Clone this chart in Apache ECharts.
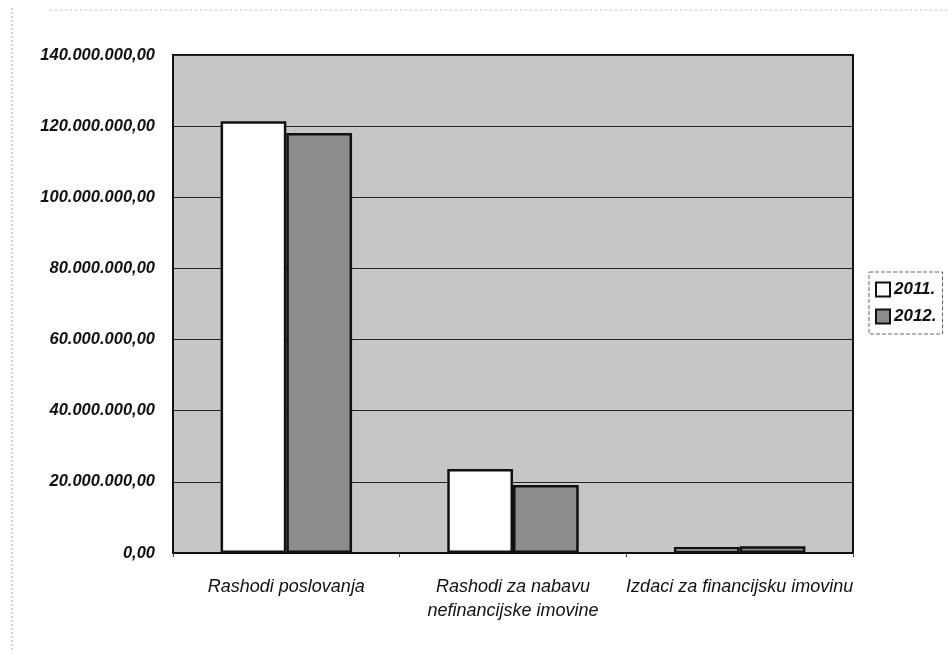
<!DOCTYPE html>
<html><head><meta charset="utf-8">
<script src="https://cdn.jsdelivr.net/npm/echarts@6/dist/echarts.min.js"></script>
<style>html,body{margin:0;padding:0;background:#fff;}#c{width:952px;height:650px;}</style>
</head><body><div id="c"></div>
<script>
const categories = ['Rashodi poslovanja', 'Rashodi za nabavu\nnefinancijske imovine', 'Izdaci za financijsku imovinu'];
const seriesNames = ['2011.', '2012.'];
const values2011 = [121400000, 23600000, 1700000];
const values2012 = [118100000, 19100000, 1900000];
const yTicks = {min: 0, max: 140000000, interval: 20000000};

function fmt(v) {
  const s = Math.round(v).toString().replace(/\B(?=(\d{3})+(?!\d))/g, '.');
  return s + ',00';
}
const font = '"Liberation Sans Narrow", "Liberation Sans", Arial, sans-serif';
const chart = echarts.init(document.getElementById('c'));
chart.setOption({
  animation: false,
  backgroundColor: '#ffffff',
  grid: {left: 173, right: 99, top: 55, bottom: 97, backgroundColor: '#c6c6c6', show: true, borderColor: '#111', borderWidth: 2},
  legend: {
    orient: 'vertical', left: 869, top: 272, itemWidth: 14, itemHeight: 14, itemGap: 10,
    padding: [9, 6, 9, 6],
    borderColor: '#666', borderWidth: 1, borderType: 'dashed',
    textStyle: {fontFamily: font, fontStyle: 'italic', fontWeight: 'bold', fontSize: 17, color: '#111', padding: [0, 0, 0, -1]},
    data: seriesNames.map(n => ({name: n, icon: 'rect'}))
  },
  xAxis: {
    type: 'category', data: categories,
    axisLine: {show: true, lineStyle: {color: '#111', width: 2}},
    axisTick: {show: true, length: 4, lineStyle: {color: '#444'}},
    axisLabel: {fontFamily: font, fontStyle: 'italic', fontSize: 18, color: '#111', margin: 22, lineHeight: 24, interval: 0}
  },
  yAxis: {
    type: 'value', min: yTicks.min, max: yTicks.max, interval: yTicks.interval,
    axisLine: {show: false}, axisTick: {show: false},
    splitLine: {lineStyle: {color: '#222', width: 1}},
    axisLabel: {formatter: fmt, fontFamily: font, fontStyle: 'italic', fontWeight: 'bold', fontSize: 16.5, color: '#111', margin: 18}
  },
  series: [
    {name: seriesNames[0], type: 'bar', data: values2011, barGap: '0%', barCategoryGap: '42%',
     itemStyle: {color: '#ffffff', borderColor: '#111', borderWidth: 2.5}},
    {name: seriesNames[1], type: 'bar', data: values2012,
     itemStyle: {color: '#8c8c8c', borderColor: '#111', borderWidth: 2.5}}
  ],
  graphic: [
    {type: 'line', shape: {x1: 12, y1: 8, x2: 12, y2: 650}, style: {stroke: '#aaa', lineWidth: 1, lineDash: [2, 2]}},
    {type: 'line', shape: {x1: 50, y1: 10, x2: 950, y2: 10}, style: {stroke: '#bbb', lineWidth: 1, lineDash: [2, 3]}}
  ]
});
</script></body></html>
